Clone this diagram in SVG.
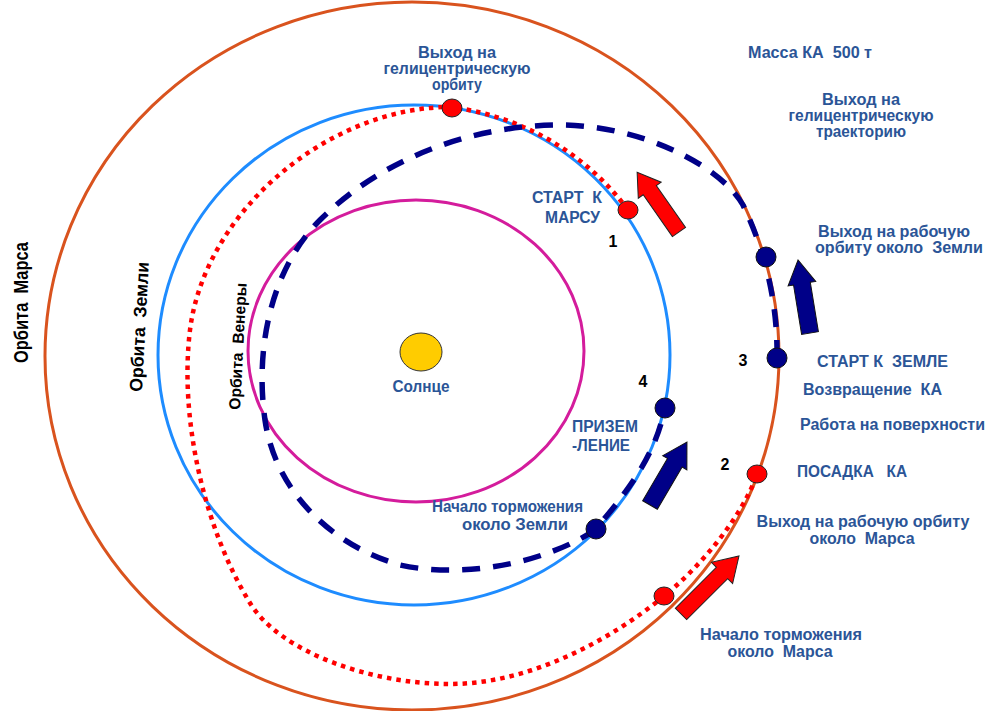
<svg xmlns="http://www.w3.org/2000/svg" width="988" height="711" viewBox="0 0 988 711">
<style>
.lbl{font-family:"Liberation Sans",Arial,sans-serif;font-weight:bold;font-size:16px;fill:#2B5597;white-space:pre}
.num{font-family:"Liberation Sans",Arial,sans-serif;font-weight:bold;font-size:16px;fill:#000}
.orb{font-family:"Liberation Sans",Arial,sans-serif;font-weight:bold;fill:#000;white-space:pre}
.mid{text-anchor:middle}
.end{text-anchor:end}
.rdot{fill:#FF0000;stroke:#222;stroke-width:1}
.bdot{fill:#000088;stroke:#111;stroke-width:1}
.rarr{fill:#FF0000;stroke:#222;stroke-width:1}
.barr{fill:#000088;stroke:#111;stroke-width:1}
</style>
<rect width="988" height="711" fill="#fff"/>
<g id="orbits" fill="none" stroke-width="3">
  <ellipse id="mars-orbit" cx="412" cy="356" rx="367" ry="354" stroke="#D9531E"/>
  <ellipse id="earth-orbit" cx="414" cy="355" rx="256" ry="250" stroke="#1E8CFF"/>
  <ellipse id="venus-orbit" cx="416" cy="351" rx="168" ry="151" stroke="#D41C9C"/>
</g>
<g id="connectors" fill="none">
  <path id="mars-transfer" d="M628,210 A259,253 0 0 0 450,107 C330,107 205,210 190,330 C179,420 205,530 250,603 C280,652 370,684 450,684 C530,684 610,640 663,597 C700,567 740,520 757,475" stroke="#FF0000" stroke-width="4.5" stroke-dasharray="4.5 5"/>
  <path id="earth-return" d="M777,358 A364,350 0 0 0 743,205 C720,165 640,125 560,125 C470,125 380,160 320,220 C270,270 255,350 265,420 C275,490 330,545 400,565 C470,580 550,560 595,530 C620,500 650,465 662,420" stroke="#000088" stroke-width="5.5" stroke-dasharray="18 13"/>
</g>
<g id="sun">
  <ellipse cx="421" cy="352" rx="21" ry="19" fill="#FFCC00" stroke="#333" stroke-width="1"/>
  <text class="lbl mid" x="421" y="392" textLength="57" lengthAdjust="spacingAndGlyphs">Солнце</text>
</g>
<g id="orbit-labels">
  <text class="orb" font-size="20" transform="translate(28,363) rotate(-90)" textLength="121" lengthAdjust="spacingAndGlyphs">Орбита  Марса</text>
  <text class="orb" font-size="18" transform="translate(142,392) rotate(-87)" textLength="130" lengthAdjust="spacingAndGlyphs">Орбита  Земли</text>
  <text class="orb" font-size="16" transform="translate(240,410) rotate(-87)" textLength="127" lengthAdjust="spacingAndGlyphs">Орбита  Венеры</text>
</g>
<g id="node-helio-orbit">
  <ellipse class="rdot" cx="452" cy="108" rx="10" ry="9"/>
  <text class="lbl mid" x="457" y="58" textLength="78" lengthAdjust="spacingAndGlyphs">Выход на</text>
  <text class="lbl mid" x="457" y="74" textLength="147" lengthAdjust="spacingAndGlyphs">гелицентрическую</text>
  <text class="lbl mid" x="457" y="90" textLength="50" lengthAdjust="spacingAndGlyphs">орбиту</text>
</g>
<g id="node-mass">
  <text class="lbl" x="748" y="58" textLength="124" lengthAdjust="spacingAndGlyphs">Масса КА  500 т</text>
</g>
<g id="node-helio-traj">
  <text class="lbl mid" x="861" y="105" textLength="78" lengthAdjust="spacingAndGlyphs">Выход на</text>
  <text class="lbl mid" x="861" y="121" textLength="145" lengthAdjust="spacingAndGlyphs">гелицентрическую</text>
  <text class="lbl mid" x="861" y="137" textLength="90" lengthAdjust="spacingAndGlyphs">траекторию</text>
</g>
<g id="node-1-start-mars">
  <ellipse class="rdot" cx="628" cy="210" rx="10" ry="9"/>
  <polygon class="rarr" points="0,-8 51,-8 51,-14 73,0 51,14 51,8 0,8" transform="translate(679,232) rotate(-125)"/>
  <text class="lbl end" x="602" y="203" textLength="70" lengthAdjust="spacingAndGlyphs">СТАРТ  К</text>
  <text class="lbl end" x="600" y="223" textLength="55" lengthAdjust="spacingAndGlyphs">МАРСУ</text>
  <text class="num mid" x="613" y="247">1</text>
</g>
<g id="node-earth-work-orbit">
  <circle class="bdot" cx="766" cy="257" r="10"/>
  <polygon class="barr" points="0,-8.5 50,-8.5 50,-14 74,0 50,14 50,8.5 0,8.5" transform="translate(810,333) rotate(-99.3)"/>
  <text class="lbl mid" x="894" y="237" textLength="152" lengthAdjust="spacingAndGlyphs">Выход на рабочую</text>
  <text class="lbl mid" x="899" y="253" textLength="168" lengthAdjust="spacingAndGlyphs">орбиту около  Земли</text>
</g>
<g id="node-3-start-earth">
  <circle class="bdot" cx="777" cy="358" r="10"/>
  <text class="num mid" x="743" y="366">3</text>
  <text class="lbl" x="817" y="367" textLength="131" lengthAdjust="spacingAndGlyphs">СТАРТ К  ЗЕМЛЕ</text>
  <text class="lbl" x="803" y="395" textLength="139" lengthAdjust="spacingAndGlyphs">Возвращение  КА</text>
  <text class="lbl" x="800" y="430" textLength="185" lengthAdjust="spacingAndGlyphs">Работа на поверхности</text>
</g>
<g id="node-4-landing-earth">
  <circle class="bdot" cx="665" cy="408" r="10"/>
  <polygon class="barr" points="0,-8.5 49,-8.5 49,-14 73,0 49,14 49,8.5 0,8.5" transform="translate(650,505) rotate(-59.6)"/>
  <text class="num mid" x="643" y="387">4</text>
  <text class="lbl" x="572" y="432" textLength="66" lengthAdjust="spacingAndGlyphs">ПРИЗЕМ</text>
  <text class="lbl" x="572" y="451" textLength="58" lengthAdjust="spacingAndGlyphs">-ЛЕНИЕ</text>
</g>
<g id="node-brake-earth">
  <circle class="bdot" cx="596" cy="529" r="10"/>
  <text class="lbl end" x="583" y="512" textLength="151" lengthAdjust="spacingAndGlyphs">Начало торможения</text>
  <text class="lbl end" x="568" y="530" textLength="106" lengthAdjust="spacingAndGlyphs">около Земли</text>
</g>
<g id="node-2-landing-mars">
  <ellipse class="rdot" cx="757" cy="474" rx="10" ry="9"/>
  <text class="num mid" x="725" y="470">2</text>
  <text class="lbl" x="797" y="477" textLength="110" lengthAdjust="spacingAndGlyphs">ПОСАДКА   КА</text>
  <text class="lbl mid" x="863" y="527" textLength="213" lengthAdjust="spacingAndGlyphs">Выход на рабочую орбиту</text>
  <text class="lbl mid" x="862" y="544" textLength="105" lengthAdjust="spacingAndGlyphs">около  Марса</text>
</g>
<g id="node-brake-mars">
  <ellipse class="rdot" cx="664" cy="596" rx="10" ry="9"/>
  <polygon class="rarr" points="0,-8 58,-8 58,-15 82,0 58,15 58,8 0,8" transform="translate(681,614) rotate(-45)"/>
  <text class="lbl mid" x="781" y="640" textLength="162" lengthAdjust="spacingAndGlyphs">Начало торможения</text>
  <text class="lbl mid" x="780" y="657" textLength="105" lengthAdjust="spacingAndGlyphs">около  Марса</text>
</g>
</svg>
